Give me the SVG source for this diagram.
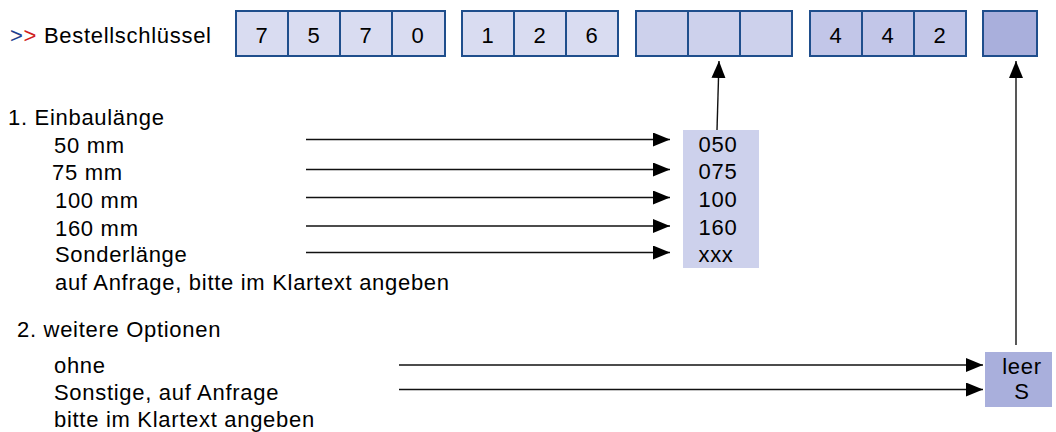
<svg xmlns="http://www.w3.org/2000/svg" width="1056" height="432" viewBox="0 0 1056 432">
<style>
text{font-family:"Liberation Sans",Arial,sans-serif;font-size:22px;letter-spacing:0.7px;fill:#000}
.c{text-anchor:middle}
.cell{stroke:#1F4E8C;stroke-width:2}
.g1{fill:#D9DCF1}.g3{fill:#CDD1EC}.g4{fill:#C2C6E8}.g5{fill:#A9AFDC}
.ln{stroke:#111;stroke-width:1.4;fill:none;marker-end:url(#ah)}
</style>
<defs>
<marker id="ah" markerUnits="userSpaceOnUse" markerWidth="17" markerHeight="14" refX="17" refY="7" orient="auto">
<path d="M0,0 L17,7 L0,14 Z" fill="#000"/>
</marker>
</defs>
<rect width="1056" height="432" fill="#fff"/>
<g id="title">
<text x="10" y="43"><tspan fill="#1F3F8F">&gt;</tspan><tspan fill="#D02020">&gt;</tspan> Bestellschlüssel</text>
</g>
<g id="key1">
<rect class="cell g1" x="236" y="11" width="52" height="45"/>
<rect class="cell g1" x="288" y="11" width="52" height="45"/>
<rect class="cell g1" x="340" y="11" width="52" height="45"/>
<rect class="cell g1" x="392" y="11" width="53" height="45"/>
<text class="c" x="262" y="43">7</text>
<text class="c" x="314" y="43">5</text>
<text class="c" x="366" y="43">7</text>
<text class="c" x="418" y="43">0</text>
</g>
<g id="key2">
<rect class="cell g1" x="462" y="11" width="52" height="45"/>
<rect class="cell g1" x="514" y="11" width="52" height="45"/>
<rect class="cell g1" x="566" y="11" width="52" height="45"/>
<text class="c" x="488" y="43">1</text>
<text class="c" x="540" y="43">2</text>
<text class="c" x="592" y="43">6</text>
</g>
<g id="key3">
<rect class="cell g3" x="636" y="11" width="52" height="45"/>
<rect class="cell g3" x="688" y="11" width="52" height="45"/>
<rect class="cell g3" x="740" y="11" width="52" height="45"/>
</g>
<g id="key4">
<rect class="cell g4" x="810" y="11" width="52" height="45"/>
<rect class="cell g4" x="862" y="11" width="52" height="45"/>
<rect class="cell g4" x="914" y="11" width="52" height="45"/>
<text class="c" x="836" y="43">4</text>
<text class="c" x="888" y="43">4</text>
<text class="c" x="940" y="43">2</text>
</g>
<g id="key5">
<rect class="cell g5" x="983" y="11" width="54" height="45"/>
</g>
<g id="section1">
<text x="8" y="125">1. Einbaulänge</text>
<text x="54" y="153">50 mm</text>
<text x="52" y="180">75 mm</text>
<text x="55" y="208">100 mm</text>
<text x="55" y="236">160 mm</text>
<text x="55" y="262">Sonderlänge</text>
<text x="55" y="290">auf Anfrage, bitte im Klartext angeben</text>
</g>
<g id="values1">
<rect class="g3" x="683" y="130" width="76" height="138"/>
<text class="c" x="718" y="152">050</text>
<text class="c" x="718" y="179">075</text>
<text class="c" x="718" y="207">100</text>
<text class="c" x="718" y="235">160</text>
<text class="c" x="716" y="262">xxx</text>
</g>
<g id="section2">
<text x="17" y="337">2. weitere Optionen</text>
<text x="54" y="373">ohne</text>
<text x="54" y="400">Sonstige, auf Anfrage</text>
<text x="54" y="427">bitte im Klartext angeben</text>
</g>
<g id="values2">
<rect class="g5" x="985" y="352" width="67" height="55"/>
<text class="c" x="1022" y="374">leer</text>
<text class="c" x="1022" y="399">S</text>
</g>
<g id="connectors">
<line class="ln" x1="306" y1="139.5" x2="670" y2="139.5"/>
<line class="ln" x1="306" y1="169.5" x2="670" y2="169.5"/>
<line class="ln" x1="306" y1="197.5" x2="670" y2="197.5"/>
<line class="ln" x1="306" y1="226" x2="670" y2="226"/>
<line class="ln" x1="306" y1="252.5" x2="670" y2="252.5"/>
<line class="ln" x1="717" y1="130" x2="719" y2="61"/>
<line class="ln" x1="399" y1="365" x2="983" y2="365"/>
<line class="ln" x1="399" y1="389.5" x2="983" y2="389.5"/>
<line class="ln" x1="1016" y1="345" x2="1016" y2="61"/>
</g>
</svg>
